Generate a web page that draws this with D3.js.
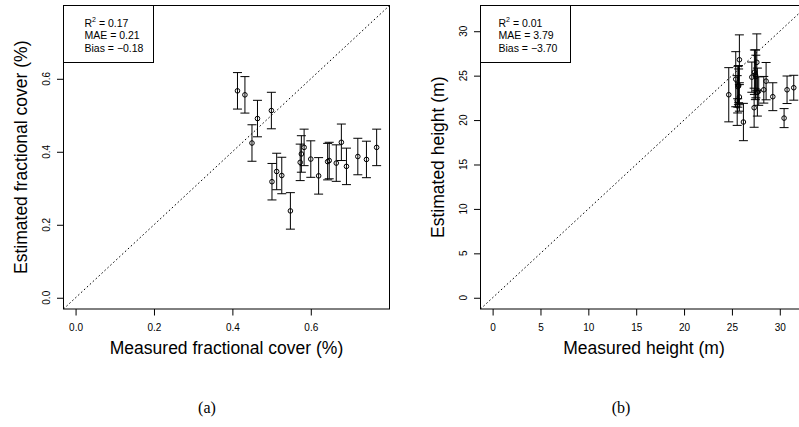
<!DOCTYPE html>
<html>
<head>
<meta charset="utf-8">
<script src="https://cdn.jsdelivr.net/npm/d3@7"></script>
<style>
  html, body { margin: 0; padding: 0; background: #fff; }
  svg { display: block; }
  text { font-family: "Liberation Sans", Arial, Helvetica, sans-serif; fill: #000; }
  .cap { font-family: "Liberation Serif", "Times New Roman", serif; }
</style>
</head>
<body>
<svg id="chart" width="799" height="427"></svg>
<script>
// ---------- Data: panel (a) fractional cover ----------
const coverMeasured  = [0.413, 0.432, 0.464, 0.4995, 0.450, 0.501, 0.513, 0.526, 0.548, 0.573, 0.576, 0.583, 0.600, 0.620, 0.643, 0.647, 0.665, 0.678, 0.691, 0.720, 0.742, 0.768];
const coverEstimated = [0.567, 0.556, 0.491, 0.513, 0.424, 0.318, 0.346, 0.335, 0.238, 0.371, 0.394, 0.412, 0.380, 0.334, 0.373, 0.376, 0.369, 0.426, 0.360, 0.387, 0.379, 0.412];
const coverError     = [0.05, 0.05, 0.05, 0.05, 0.05, 0.05, 0.05, 0.05, 0.05, 0.05, 0.05, 0.05, 0.05, 0.05, 0.05, 0.05, 0.05, 0.05, 0.05, 0.05, 0.05, 0.05];
const coverTicks     = [0.0, 0.2, 0.4, 0.6];
const coverLimits    = [0, 0.77];
const coverStats     = ["0.17", "0.21", "\u22120.18"];

// ---------- Data: panel (b) height ----------
const heightMeasured  = [24.67, 25.40, 25.55, 25.78, 25.68, 25.62, 25.78, 25.60, 26.20, 27.08, 27.32, 27.35, 27.60, 27.50, 27.66, 27.80, 28.33, 28.57, 29.27, 30.45, 30.76, 31.46, 27.45, 25.70];
const heightEstimated = [22.85, 24.60, 22.20, 26.79, 23.93, 23.75, 22.60, 21.60, 19.78, 24.83, 21.39, 25.39, 26.50, 24.90, 23.15, 23.26, 23.41, 24.38, 22.63, 20.22, 23.41, 23.64, 25.10, 23.85];
const heightError     = [3.05, 3.10, 2.80, 2.80, 2.20, 2.30, 1.60, 0.80, 2.10, 1.70, 2.20, 2.50, 3.20, 2.40, 2.70, 1.60, 1.50, 2.10, 1.57, 1.07, 1.55, 1.40, 2.80, 1.90];
const heightTicks     = [0, 5, 10, 15, 20, 25, 30];
const heightLimits    = [0, 31.63];
const heightStats     = ["0.01", "3.79", "\u22123.70"];

const svg = d3.select("#chart");

function panel(cfg) {
  const { left, right, top, bottom } = cfg.box;
  const span = cfg.limits[1] - cfg.limits[0];
  const dom = [cfg.limits[0] - 0.04 * span, cfg.limits[1] + 0.04 * span];
  const x = d3.scaleLinear().domain(dom).range([left, right]);
  const y = d3.scaleLinear().domain(dom).range([bottom, top]);

  const g = svg.append("g");
  const clipId = "clip-" + cfg.id;
  svg.append("clipPath").attr("id", clipId)
    .append("rect").attr("x", left).attr("y", top).attr("width", right - left).attr("height", bottom - top);

  const inner = g.append("g").attr("clip-path", `url(#${clipId})`);

  // 1:1 dotted line
  inner.append("line")
    .attr("x1", x(dom[0])).attr("y1", y(dom[0]))
    .attr("x2", x(dom[1])).attr("y2", y(dom[1]))
    .attr("stroke", "#000").attr("stroke-width", 1)
    .attr("stroke-dasharray", "1.6,2.4");

  const data = cfg.mx.map((v, i) => ({ mx: v, ey: cfg.ey[i], err: cfg.err[i] }));
  const cap = 4.5;
  const eb = inner.append("g").attr("stroke", "#000").attr("stroke-width", 1).attr("fill", "none");
  data.forEach(d => {
    const cx = x(d.mx), y1 = y(d.ey + d.err), y2 = y(d.ey - d.err);
    eb.append("line").attr("x1", cx).attr("x2", cx).attr("y1", y1).attr("y2", y2);
    eb.append("line").attr("x1", cx - cap).attr("x2", cx + cap).attr("y1", y1).attr("y2", y1);
    eb.append("line").attr("x1", cx - cap).attr("x2", cx + cap).attr("y1", y2).attr("y2", y2);
  });
  inner.append("g").selectAll("circle").data(data).join("circle")
    .attr("cx", d => x(d.mx)).attr("cy", d => y(d.ey)).attr("r", 2.3)
    .attr("fill", "none").attr("stroke", "#000").attr("stroke-width", 1);

  // Axes
  const xa = g.append("g").attr("transform", `translate(0,${bottom})`)
    .call(d3.axisBottom(x).tickValues(cfg.ticks).tickFormat(cfg.fmt).tickSize(6.5).tickPadding(8.5));
  xa.select(".domain").remove();
  xa.selectAll(".tick line").attr("stroke", "#000");
  xa.selectAll(".tick text").attr("font-size", 10).attr("font-family", "Liberation Sans, Arial, sans-serif").attr("fill", "#222");

  const ya = g.append("g").attr("transform", `translate(${left},0)`)
    .call(d3.axisLeft(y).tickValues(cfg.ticks).tickFormat(cfg.fmt).tickSize(6.5));
  ya.select(".domain").remove();
  ya.selectAll(".tick line").attr("stroke", "#000");
  ya.selectAll(".tick text").remove();
  cfg.ticks.forEach(v => {
    g.append("text")
      .attr("transform", `translate(${left - 14},${y(v)}) rotate(-90)`)
      .attr("text-anchor", "middle").attr("font-size", 10).attr("fill", "#222")
      .text(cfg.fmt(v));
  });

  // Box
  g.append("rect").attr("x", left).attr("y", top).attr("width", right - left).attr("height", bottom - top)
    .attr("fill", "none").attr("stroke", "#000").attr("stroke-width", 1);

  // Stats legend
  const lg = g.append("g");
  lg.append("rect").attr("x", left).attr("y", top).attr("width", cfg.legendW).attr("height", 62.5 - top)
    .attr("fill", "#fff").attr("stroke", "#000").attr("stroke-width", 1);
  const tx = left + cfg.legendPad;
  const t1 = lg.append("text").attr("x", tx).attr("y", 26.5).attr("font-size", 10.5);
  t1.append("tspan").text("R");
  t1.append("tspan").attr("font-size", 7).attr("dy", -4.5).text("2");
  t1.append("tspan").attr("dy", 4.5).text(" = " + cfg.stats[0]);
  lg.append("text").attr("x", tx).attr("y", 39).attr("font-size", 10.5).text("MAE = " + cfg.stats[1]);
  lg.append("text").attr("x", tx).attr("y", 51.5).attr("font-size", 10.5).text("Bias = " + cfg.stats[2]);

  // Axis titles
  g.append("text").attr("x", (left + right) / 2).attr("y", 353.5)
    .attr("text-anchor", "middle").attr("font-size", 17.5).text(cfg.xTitle);
  g.append("text")
    .attr("transform", `translate(${left - 37},${(top + bottom) / 2}) rotate(-90)`)
    .attr("text-anchor", "middle").attr("font-size", 17.5).text(cfg.yTitle);

  // Caption
  svg.append("text").attr("class", "cap").attr("x", cfg.capX).attr("y", 413)
    .attr("text-anchor", "middle").attr("font-size", 16).text(cfg.caption);
}

panel({
  id: "a", box: { left: 63.5, right: 389.5, top: 5.5, bottom: 309 },
  mx: coverMeasured, ey: coverEstimated, err: coverError,
  ticks: coverTicks, fmt: d3.format(".1f"), limits: coverLimits, stats: coverStats,
  legendW: 90, legendPad: 21,
  xTitle: "Measured fractional cover (%)", yTitle: "Estimated fractional cover (%)",
  caption: "(a)", capX: 207
});

panel({
  id: "b", box: { left: 480.5, right: 807.5, top: 5.5, bottom: 309 },
  mx: heightMeasured, ey: heightEstimated, err: heightError,
  ticks: heightTicks, fmt: d3.format("d"), limits: heightLimits, stats: heightStats,
  legendW: 90, legendPad: 18,
  xTitle: "Measured height (m)", yTitle: "Estimated height (m)",
  caption: "(b)", capX: 621
});
</script>
</body>
</html>
